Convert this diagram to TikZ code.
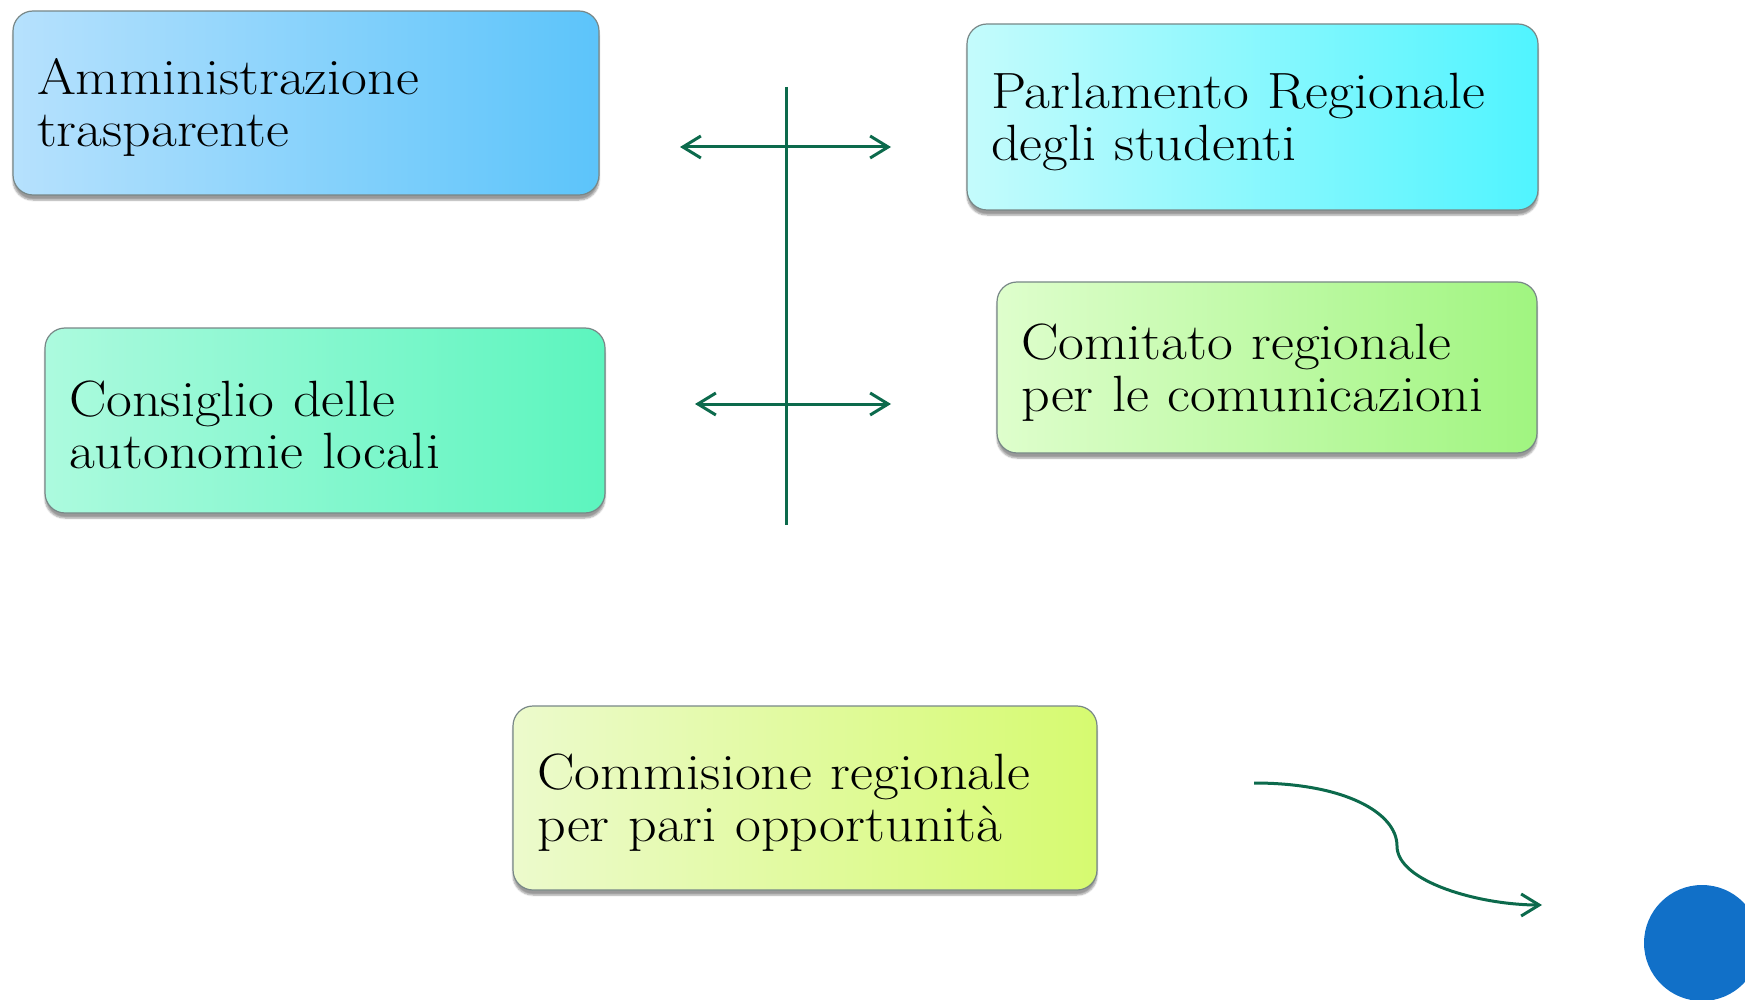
\documentclass[tikz,border=0pt]{standalone}
\usetikzlibrary{arrows.meta,shadows.blur}
\definecolor{arrgreen}{RGB}{12,106,76}
\definecolor{dotblue}{RGB}{17,112,200}
\definecolor{edgegray}{RGB}{120,135,135}
\definecolor{bAl}{RGB}{182,225,253}\definecolor{bAr}{RGB}{92,196,250}
\definecolor{bBl}{RGB}{196,251,252}\definecolor{bBr}{RGB}{80,244,255}
\definecolor{bCl}{RGB}{172,250,222}\definecolor{bCr}{RGB}{92,245,190}
\definecolor{bDl}{RGB}{222,254,204}\definecolor{bDr}{RGB}{160,245,128}
\definecolor{bEl}{RGB}{236,250,204}\definecolor{bEr}{RGB}{214,250,112}
\newcommand{\widetxt}[1]{\scalebox{1.1}[1]{#1}}
\newcommand{\topstrut}{\rule{0pt}{45pt}}
\tikzset{
  box/.style={draw=edgegray, line width=1.2pt, rounded corners=20pt,
    align=left, inner xsep=24pt, inner ysep=0pt, anchor=center,
    font=\fontsize{51}{52}\selectfont,
    blur shadow={shadow xshift=0pt, shadow yshift=-5pt, shadow blur steps=6, shadow opacity=40}},
  link/.style={draw=arrgreen, line width=3pt},
  tip/.style={-{Straight Barb[length=18pt,width=22pt,line width=3pt]}},
  tips/.style={{Straight Barb[length=18pt,width=22pt,line width=3pt]}-{Straight Barb[length=18pt,width=22pt,line width=3pt]}}
}
\begin{document}
\begin{tikzpicture}[x=1pt,y=-1pt]
\useasboundingbox (0,0) rectangle (1745,1000);
\node[box, left color=bAl, right color=bAr, minimum width=586, minimum height=184, text width=538]
  (adm) at (306,103) {\topstrut\widetxt{Amministrazione}\\\widetxt{trasparente}};
\node[box, left color=bBl, right color=bBr, minimum width=571, minimum height=186, text width=523]
  (par) at (1252.5,117) {\topstrut\widetxt{Parlamento Regionale}\\\widetxt{degli studenti}};
\node[box, left color=bCl, right color=bCr, minimum width=560, minimum height=185, text width=512]
  (con) at (325,420.5) {\topstrut\widetxt{Consiglio delle}\\\widetxt{autonomie locali}};
\node[box, left color=bDl, right color=bDr, minimum width=540, minimum height=171, text width=492]
  (com) at (1267,367.5) {\topstrut\widetxt{Comitato regionale}\\\widetxt{per le comunicazioni}};
\node[box, left color=bEl, right color=bEr, minimum width=584, minimum height=184, text width=536]
  (cpo) at (805,798) {\topstrut\widetxt{Commisione regionale}\\\widetxt{per pari opportunit\`a}};

\coordinate (vtop) at (786,87);
\coordinate (vbot) at (786,525);
\coordinate (a1l) at (680,147);
\coordinate (a1r) at (891,147);
\coordinate (a2l) at (695,404);
\coordinate (a2r) at (891,404);
\coordinate (cs) at (1254,783);
\coordinate (cm) at (1397,846);
\coordinate (ce) at (1542,905);

\draw[link] (vtop) -- (vbot);
\draw[link, tips] (a1l) -- (a1r);
\draw[link, tips] (a2l) -- (a2r);
\draw[link, tip] (cs) .. controls (1345,783) and (1397,813) .. (cm)
  .. controls (1397,882) and (1480,905) .. (ce);

\node[circle, fill=dotblue, minimum size=116, inner sep=0pt] (dot) at (1702,943) {};
\end{tikzpicture}
\end{document}
